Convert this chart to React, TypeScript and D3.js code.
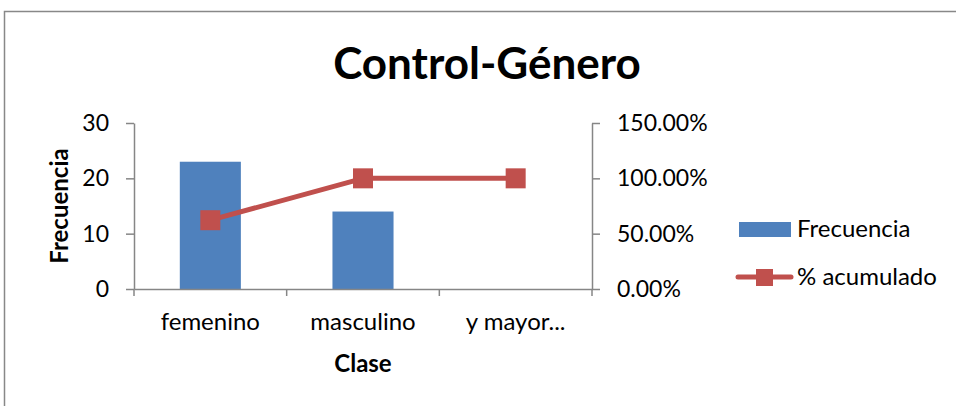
import React, { useEffect, useRef } from 'react';
import * as d3 from 'd3';

const categories = ['femenino', 'masculino', 'y mayor...'];
const frecuencia = [23, 14, 0];
const acumulado = [0.6216, 1.0, 1.0];
const leftTicks = [0, 10, 20, 30];
const rightTicks = [0, 0.5, 1.0, 1.5];

const W = 956;
const H = 406;

export default function App() {
  const ref = useRef<SVGSVGElement>(null);

  useEffect(() => {
    const svg = d3.select(ref.current);
    svg.selectAll('*').remove();

    const font = 'Lato, Open Sans, sans-serif';
    const axisColor = '#868686';
    const fs = 24;
    const tickFs = 23;

    // outer chart border
    svg
      .append('rect')
      .attr('x', 4.5)
      .attr('y', 11.5)
      .attr('width', W + 10)
      .attr('height', H + 10)
      .attr('fill', 'white')
      .attr('stroke', '#888')
      .attr('stroke-width', 1.5);

    const margin = { left: 134, right: 956 - 592, top: 123, bottom: 406 - 289 };
    const gw = W - margin.left - margin.right;
    const gh = H - margin.top - margin.bottom;

    const graph = svg.append('g').attr('transform', `translate(${margin.left}, ${margin.top})`);

    const x = d3.scaleBand().domain(categories).range([0, gw]);
    const y = d3.scaleLinear().domain([0, 30]).range([gh, 0]);
    const y2 = d3.scaleLinear().domain([0, 1.5]).range([gh, 0]);

    // bars
    const bw = x.bandwidth() * 0.4;
    graph
      .selectAll('rect.bar')
      .data(frecuencia)
      .enter()
      .append('rect')
      .attr('class', 'bar')
      .attr('x', (d, i) => x(categories[i])! + (x.bandwidth() - bw) / 2)
      .attr('y', d => y(d))
      .attr('width', bw)
      .attr('height', d => gh - y(d))
      .attr('fill', '#4F81BD');

    // axes
    const xAxis = graph
      .append('g')
      .attr('transform', `translate(0, ${gh})`)
      .call(
        d3
          .axisBottom(x)
          .tickValues([])
          .tickSizeOuter(0)
      );
    // category boundary ticks
    const bounds = d3.range(categories.length + 1).map(i => i * x.step());
    xAxis
      .selectAll('line.bt')
      .data(bounds)
      .enter()
      .append('line')
      .attr('class', 'bt')
      .attr('x1', d => d)
      .attr('x2', d => d)
      .attr('y1', 0)
      .attr('y2', 7)
      .attr('stroke', axisColor)
      .attr('stroke-width', 1.5);
    xAxis
      .selectAll('text.cat')
      .data(categories)
      .enter()
      .append('text')
      .attr('class', 'cat')
      .attr('x', d => x(d)! + x.bandwidth() / 2)
      .attr('y', 41)
      .attr('text-anchor', 'middle')
      .attr('font-family', font)
      .attr('font-size', fs)
      .attr('fill', '#000')
      .text(d => d);

    const yAxis = graph.append('g').call(
      d3
        .axisLeft(y)
        .tickValues(leftTicks)
        .tickSize(8)
        .tickPadding(17)
        .tickSizeOuter(0)
        .tickFormat(d3.format('d'))
    );
    const y2Axis = graph
      .append('g')
      .attr('transform', `translate(${gw}, 0)`)
      .call(
        d3
          .axisRight(y2)
          .tickValues(rightTicks)
          .tickSize(8)
          .tickPadding(17)
          .tickSizeOuter(0)
          .tickFormat(d3.format('.2%'))
      );

    [xAxis, yAxis, y2Axis].forEach(a => {
      a.selectAll('path, line').attr('stroke', axisColor).attr('stroke-width', 1.5);
      a.selectAll('.tick text')
        .attr('font-family', font)
        .attr('font-size', tickFs)
        .attr('fill', '#000');
    });

    // cumulative line
    const line = d3
      .line<number>()
      .x((d, i) => x(categories[i])! + x.bandwidth() / 2)
      .y(d => y2(d));
    graph
      .append('path')
      .datum(acumulado)
      .attr('d', line)
      .attr('fill', 'none')
      .attr('stroke', '#C0504D')
      .attr('stroke-width', 5)
      .attr('stroke-linejoin', 'round');
    graph
      .selectAll('rect.mk')
      .data(acumulado)
      .enter()
      .append('rect')
      .attr('class', 'mk')
      .attr('x', (d, i) => x(categories[i])! + x.bandwidth() / 2 - 10)
      .attr('y', d => y2(d) - 10)
      .attr('width', 20)
      .attr('height', 20)
      .attr('fill', '#C0504D');

    // title
    svg
      .append('text')
      .attr('x', 487)
      .attr('y', 79)
      .attr('text-anchor', 'middle')
      .attr('font-family', font)
      .attr('font-weight', 'bold')
      .attr('font-size', 44)
      .attr('fill', '#000')
      .text('Control-Género');

    // axis titles
    svg
      .append('text')
      .attr('x', margin.left + gw / 2)
      .attr('y', 372)
      .attr('text-anchor', 'middle')
      .attr('font-family', font)
      .attr('font-weight', 'bold')
      .attr('font-size', fs)
      .text('Clase');
    svg
      .append('text')
      .attr('transform', 'translate(68, 206) rotate(-90)')
      .attr('text-anchor', 'middle')
      .attr('font-family', font)
      .attr('font-weight', 'bold')
      .attr('font-size', fs)
      .text('Frecuencia');

    // legend
    const lg = svg.append('g');
    lg.append('rect')
      .attr('x', 739)
      .attr('y', 222)
      .attr('width', 52)
      .attr('height', 15)
      .attr('fill', '#4F81BD');
    lg.append('text')
      .attr('x', 797)
      .attr('y', 237)
      .attr('font-family', font)
      .attr('font-size', fs)
      .text('Frecuencia');
    lg.append('line')
      .attr('x1', 738)
      .attr('x2', 791)
      .attr('y1', 277)
      .attr('y2', 277)
      .attr('stroke', '#C0504D')
      .attr('stroke-width', 5)
      .attr('stroke-linecap', 'round');
    lg.append('rect')
      .attr('x', 756)
      .attr('y', 269)
      .attr('width', 17)
      .attr('height', 17)
      .attr('fill', '#C0504D');
    lg.append('text')
      .attr('x', 797)
      .attr('y', 285)
      .attr('font-family', font)
      .attr('font-size', fs)
      .text('% acumulado');
  }, []);

  return <svg ref={ref} width={W} height={H} style={{ display: 'block', position: 'absolute', left: 0, top: 0 }} />;
}
